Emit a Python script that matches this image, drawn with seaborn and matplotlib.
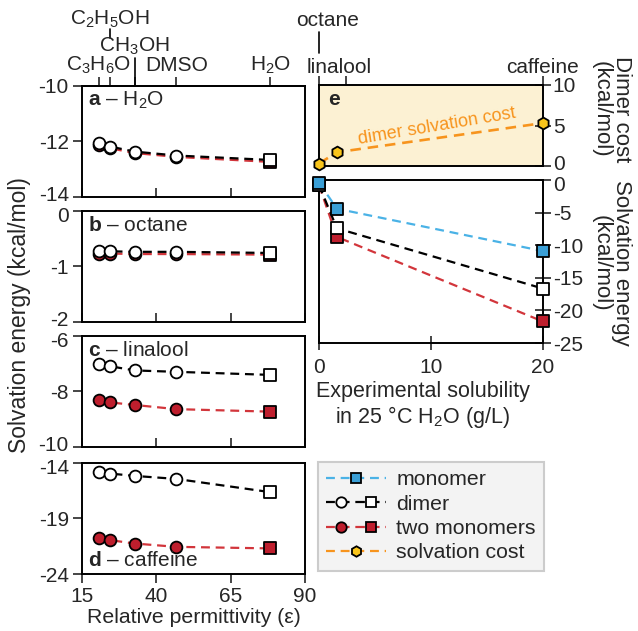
import numpy as np
import pandas as pd
import matplotlib
matplotlib.use('Agg')
import matplotlib.pyplot as plt
import matplotlib.transforms as mtrans
from matplotlib.lines import Line2D
from matplotlib.legend_handler import HandlerTuple
import seaborn as sns

sns.set_style('ticks')
plt.rcParams['font.family'] = ['Liberation Sans', 'DejaVu Sans']
plt.rcParams['mathtext.fontset'] = 'custom'
plt.rcParams['mathtext.rm'] = 'Liberation Sans'
plt.rcParams['mathtext.bf'] = 'Liberation Sans:bold'
plt.rcParams['mathtext.it'] = 'Liberation Sans:italic'
plt.rcParams['font.size'] = 15
plt.rcParams['axes.unicode_minus'] = False

# solvents (panels a-d)
solvents = ['C$_3$H$_6$O', 'C$_2$H$_5$OH', 'CH$_3$OH', 'DMSO', 'H$_2$O']
permittivity = [20.7, 24.5, 32.7, 46.7, 78.4]
solvent_markers = ['o', 'o', 'o', 'o', 's']

h2o_dimer = [-12.06, -12.19, -12.37, -12.51, -12.67]
h2o_two = [-12.12, -12.25, -12.42, -12.56, -12.74]
octane_dimer = [-0.73, -0.73, -0.74, -0.74, -0.76]
octane_two = [-0.77, -0.77, -0.78, -0.78, -0.79]
linalool_dimer = [-7.02, -7.10, -7.25, -7.30, -7.41]
linalool_two = [-8.31, -8.40, -8.49, -8.64, -8.73]
caffeine_dimer = [-14.87, -14.98, -15.19, -15.46, -16.65]
caffeine_two = [-20.76, -20.96, -21.26, -21.56, -21.70]

# solutes (panel e)
solutes = ['octane', 'linalool', 'caffeine']
solubility = [0.0, 1.6, 20.0]
solute_ticks = [0.0, 2.4, 20.0]
monomer_water = [-0.4, -4.4, -10.9]
dimer_water = [-0.76, -7.41, -16.65]
two_water = [-0.79, -8.73, -21.70]
dimer_cost = [0.3, 1.7, 5.3]

BLUE_LINE, BLUE = '#4ab2e6', '#3a9fd6'
RED_LINE, RED = '#d2353b', '#be1e2d'
ORANGE, GOLD = '#f7941d', '#f9c51b'
BEIGE = '#fcf1d3'
DASH = (0, (4, 2.6))


def series(ax, x, y, line_color, face, markers, lw=1.6):
    df = pd.DataFrame({'x': x, 'y': y, 'marker': markers})
    sns.lineplot(data=df, x='x', y='y', ax=ax, color=line_color, lw=lw,
                 linestyle=DASH, sort=False, zorder=2)
    for m, grp in df.groupby('marker', sort=False):
        sns.scatterplot(data=grp, x='x', y='y', ax=ax, marker=m, color=face,
                        edgecolor='black', linewidth=1.3, s=72, zorder=3,
                        clip_on=False, legend=False)
    ax.set(xlabel='', ylabel='')


def frame(ax):
    for sp in ax.spines.values():
        sp.set_visible(True)
        sp.set_linewidth(1.4)
        sp.set_color('black')


fig = plt.figure(figsize=(6.38, 6.31), dpi=100)

panels = [
    ('a', 'H$_2$O', h2o_dimer, h2o_two, (-14, -10), [-14, -12, -10], 0.6878, 0.87),
    ('b', 'octane', octane_dimer, octane_two, (-2, 0), [-2, -1, 0], 0.4897, 0.87),
    ('c', 'linalool', linalool_dimer, linalool_two, (-10, -6), [-10, -8, -6], 0.2916, 0.87),
    ('d', 'caffeine', caffeine_dimer, caffeine_two, (-24, -14), [-24, -19, -14], 0.0903, 0.12),
]
axes = []
for letter, name, dim, two, ylim, yticks, bottom, ty in panels:
    ax = fig.add_axes([0.1285, bottom, 0.3495, 0.1765])
    series(ax, permittivity, two, RED_LINE, RED, solvent_markers)
    series(ax, permittivity, dim, 'black', 'white', solvent_markers)
    ax.set_xlim(15, 90)
    ax.set_ylim(*ylim)
    ax.set_xticks([15, 40, 65, 90])
    ax.set_yticks(yticks)
    frame(ax)
    ax.tick_params(axis='y', direction='out', length=6.5, width=1.2, pad=3)
    if letter == 'd':
        ax.tick_params(axis='x', direction='out', length=6.5, width=1.2, pad=3)
        ax.set_xlabel('Relative permittivity (ε)', labelpad=1, fontsize=15.3)
    else:
        ax.tick_params(axis='x', direction='in', length=6.5, width=1.2, labelbottom=False)
    ax.text(0.025, ty, r'$\mathbf{' + letter + '}$ – ' + name, transform=ax.transAxes,
            ha='left', va='center')
    axes.append(ax)

# solvent labels on top of panel a
ax_a = axes[0]
sec = ax_a.secondary_xaxis('top')
sec.set_xticks(permittivity, labels=[''] * len(permittivity))
sec.tick_params(direction='out', length=6.5, width=1.2)
sec.spines['top'].set_linewidth(1.4)
trans_a = mtrans.blended_transform_factory(ax_a.transData, ax_a.transAxes)
label_rows = [1.18, 1.595, 1.351, 1.18, 1.18]
for name, eps, row in zip(solvents, permittivity, label_rows):
    ax_a.text(eps, row, name, transform=trans_a, ha='center', va='center')
ax_a.plot([permittivity[2]] * 2, [1.0, 1.252], transform=trans_a, color='black', lw=1.2, clip_on=False)
ax_a.plot([permittivity[1]] * 2, [1.43, 1.505], transform=trans_a, color='black', lw=1.2, clip_on=False)

fig.text(0.031, 0.50, 'Solvation energy (kcal/mol)', rotation=90, ha='center', va='center',
         fontsize=16.5)

# panel e - dimer cost
ax_cost = fig.add_axes([0.5, 0.7369, 0.351, 0.1284])
ax_cost.set_facecolor(BEIGE)
series(ax_cost, solubility, dimer_cost, ORANGE, GOLD, ['h', 'h', 'h'], lw=1.9)
ax_cost.set_xlim(0, 20)
ax_cost.set_ylim(0, 10)
ax_cost.set_yticks([0, 5, 10])
frame(ax_cost)
ax_cost.yaxis.tick_right()
ax_cost.xaxis.tick_top()
ax_cost.set_xticks(solute_ticks, labels=[''] * len(solute_ticks))
ax_cost.tick_params(axis='x', direction='out', length=6.5, width=1.2)
ax_cost.tick_params(axis='y', direction='inout', length=12, width=1.2, pad=1)
ax_cost.text(0.04, 0.815, 'e', transform=ax_cost.transAxes, fontweight='bold', ha='left', va='center')
ax_cost.text(10.5, 4.9, 'dimer solvation cost', color=ORANGE, fontsize=13,
             rotation=9.5, ha='center', va='center')
trans_e = mtrans.blended_transform_factory(ax_cost.transData, ax_cost.transAxes)
ax_cost.text(0.8, 1.80, solutes[0], transform=trans_e, ha='center', va='center')
ax_cost.text(1.83, 1.222, solutes[1], transform=trans_e, ha='center', va='center')
ax_cost.text(20, 1.222, solutes[2], transform=trans_e, ha='center', va='center')
ax_cost.plot([0, 0], [1.395, 1.654], transform=trans_e, color='black', lw=1.2, clip_on=False)

# panel e - solvation energies
ax_solv = fig.add_axes([0.5, 0.4564, 0.351, 0.2583])
series(ax_solv, solubility, two_water, RED_LINE, RED, ['s', 's', 's'])
series(ax_solv, solubility, dimer_water, 'black', 'white', ['s', 's', 's'])
series(ax_solv, solubility, monomer_water, BLUE_LINE, BLUE, ['s', 's', 's'])
ax_solv.set_xlim(0, 20)
ax_solv.set_ylim(-25, 0)
ax_solv.set_yticks([0, -5, -10, -15, -20, -25])
ax_solv.set_xticks([0, 10, 20])
frame(ax_solv)
ax_solv.yaxis.tick_right()
ax_solv.tick_params(axis='y', direction='inout', length=12, width=1.2, pad=1)
ax_solv.tick_params(axis='x', direction='inout', length=10, width=1.2, pad=6)
ax_solv.set_xlabel('Experimental solubility\nin 25 °C H$_2$O (g/L)', labelpad=3,
                   linespacing=1.1, fontsize=15.5)
ax_solv.xaxis.label.set_x(0.464)

fig.text(0.958, 0.827, 'Dimer cost\n(kcal/mol)', rotation=270, ha='center', va='center',
         linespacing=1.0, multialignment='center', fontsize=16)
fig.text(0.958, 0.583, 'Solvation energy\n(kcal/mol)', rotation=270, ha='center', va='center',
         linespacing=1.0, multialignment='center', fontsize=16)

# legend
ms = 7.5
h_mono = Line2D([], [], color=BLUE_LINE, ls=DASH, lw=1.6, marker='s', mfc=BLUE, mec='black', mew=1.3, ms=ms)
h_dim = (Line2D([], [], color='black', ls=DASH, lw=1.6, marker='o', mfc='white', mec='black', mew=1.3, ms=ms),
         Line2D([], [], color='black', ls=DASH, lw=1.6, marker='s', mfc='white', mec='black', mew=1.3, ms=ms))
h_two = (Line2D([], [], color=RED_LINE, ls=DASH, lw=1.6, marker='o', mfc=RED, mec='black', mew=1.3, ms=ms),
         Line2D([], [], color=RED_LINE, ls=DASH, lw=1.6, marker='s', mfc=RED, mec='black', mew=1.3, ms=ms))
h_cost = Line2D([], [], color=ORANGE, ls=DASH, lw=1.6, marker='h', mfc=GOLD, mec='black', mew=1.3, ms=ms)
leg = fig.legend([h_mono, h_dim, h_two, h_cost],
                 ['monomer', 'dimer', 'two monomers', 'solvation cost'],
                 handler_map={tuple: HandlerTuple(ndivide=None, pad=0)},
                 loc='upper left', bbox_to_anchor=(0.498, 0.268), borderaxespad=0,
                 fontsize=15.3, handlelength=2.8, handletextpad=0.5, labelspacing=0.25,
                 borderpad=0.4, fancybox=False, framealpha=1)
leg.get_frame().set_facecolor('#f3f3f3')
leg.get_frame().set_edgecolor('#cccccc')
leg.get_frame().set_linewidth(1.5)

# nudge crowded tick labels where stacked panels meet
fig.canvas.draw()
up = mtrans.ScaledTranslation(0, 2.5 / 72, fig.dpi_scale_trans)
down = mtrans.ScaledTranslation(0, -2.5 / 72, fig.dpi_scale_trans)
for ax in axes[:3] + [ax_cost]:
    lab = ax.yaxis.get_major_ticks()[0]
    for t in (lab.label1, lab.label2):
        t.set_transform(t.get_transform() + up)
for ax in axes[1:]:
    lab = ax.yaxis.get_major_ticks()[-1]
    lab.label1.set_transform(lab.label1.get_transform() + down)
lab = ax_solv.yaxis.get_major_ticks()[0]
for t in (lab.label1, lab.label2):
    t.set_transform(t.get_transform() + down)

fig.savefig('out.png', dpi=100)
